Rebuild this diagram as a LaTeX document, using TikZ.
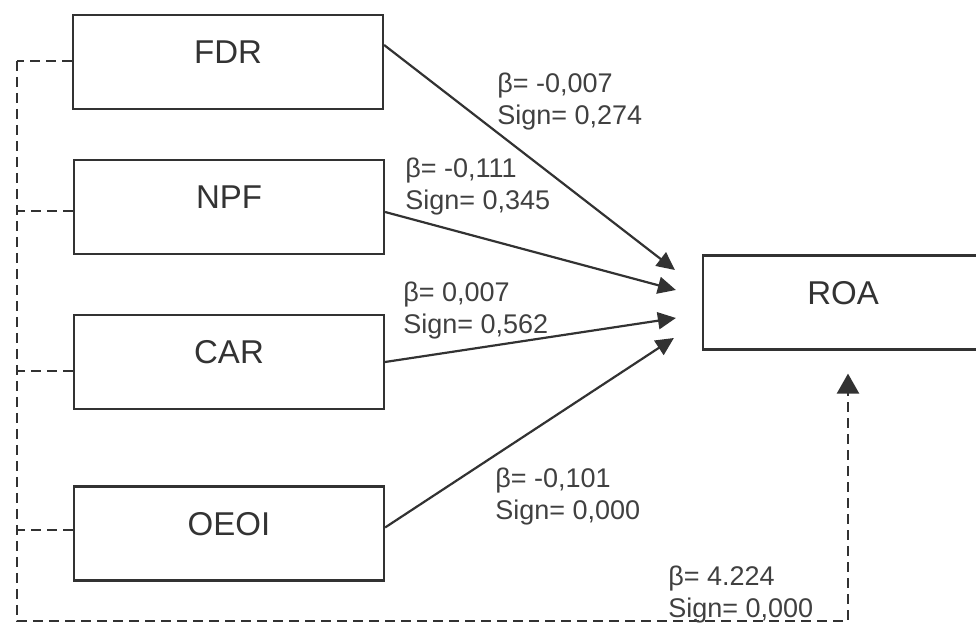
\documentclass[tikz,border=0pt]{standalone}
\usepackage{fontspec}
\setmainfont{Liberation Sans}
\usepackage{xcolor}
\definecolor{linegray}{RGB}{50,50,50}
\usetikzlibrary{
  arrows.meta,
  positioning,
  calc
}

\begin{document}
\begin{tikzpicture}[
  x=0.5pt, y=-0.5pt,
  varbox/.style={draw=linegray, line width=1.1pt, minimum width=155pt, minimum height=47pt, inner sep=0pt, font=\fontsize{16.5}{19}\selectfont, text=black!80, text depth=10pt},
  coef/.style={font=\fontsize{13.5}{16}\selectfont, anchor=north west, align=left, inner sep=0pt, text=black!75},
  eff/.style={draw=linegray, line width=1.1pt, -{Triangle[length=9pt, width=8.5pt]}},
  ctl/.style={draw=linegray, line width=1.2pt, dash pattern=on 5pt off 3pt}
]
\clip (0,0) rectangle (976,624);

% variables
\node[varbox] (fdr) at (228,62) {FDR};
\node[varbox] (npf) at (229,207) {NPF};
\node[varbox] (car) at (229,362) {CAR};
\node[varbox] (oeoi) at (229,533.5) {OEOI};
\node[varbox, minimum width=140pt] (roa) at (843,302.5) {ROA};

% direct effects
\draw[eff] ([yshift=8.5pt]fdr.east) -- ([xshift=-13.5pt, yshift=16.25pt]roa.west);
\draw[eff] ([yshift=-2.5pt]npf.east) -- ([xshift=-13pt, yshift=6.25pt]roa.west);
\draw[eff] (car.east) -- ([xshift=-13pt, yshift=-7.75pt]roa.west);
\draw[eff] ([yshift=3pt]oeoi.east) -- ([xshift=-14pt, yshift=-17.75pt]roa.west);

% joint effect
\coordinate (corner) at (17,621);
\foreach \v/\s in {fdr/0.5, npf/-2, car/-4.5, oeoi/1.75}
  \draw[ctl] ([yshift=\s pt]\v.west) -- ([yshift=\s pt]\v.west -| corner);
\draw[ctl, -{Triangle[length=10pt, width=11pt]}] ([yshift=0.5pt]fdr.west -| corner) -- (corner) -| ([xshift=2.5pt, yshift=-11.5pt]roa.south);

% coefficients
\node[coef] (cfdr) at (497,73) {β= -0,007\\Sign= 0,274};
\node[coef] (cnpf) at (405,158) {β= -0,111\\Sign= 0,345};
\node[coef] (ccar) at (403,282) {β= 0,007\\Sign= 0,562};
\node[coef] (coeoi) at (495,468) {β= -0,101\\Sign= 0,000};
\node[coef] (cjoint) at (668,566) {β= 4.224\\Sign= 0,000};

\end{tikzpicture}
\end{document}
